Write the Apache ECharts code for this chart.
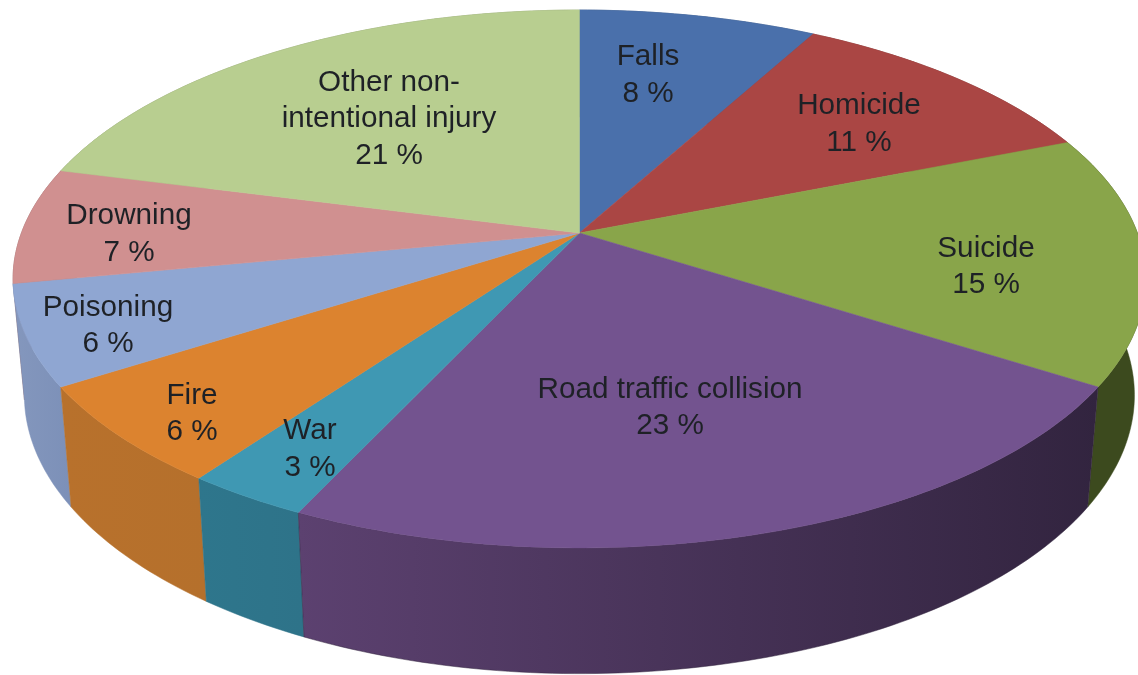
<!DOCTYPE html>
<html>
<head>
<meta charset="utf-8">
<script src="https://cdn.jsdelivr.net/npm/echarts@6/dist/echarts.min.js"></script>
<style>html,body{margin:0;padding:0;background:#fff;overflow:hidden}#c{width:1138px;height:675px;filter:blur(0.6px)}</style>
</head>
<body>
<div id="c"></div>
<script>
// Data
const categories = ['Falls', 'Homicide', 'Suicide', 'Road traffic collision', 'War', 'Fire', 'Poisoning', 'Drowning', 'Other non-\nintentional injury'];
const percentages = [8, 11, 15, 23, 3, 6, 6, 7, 21];

// Styles
const topColours = ['#4a70ab', '#aa4644', '#89a54a', '#73538f', '#3f98b3', '#dc832f', '#8fa6d2', '#d09090', '#b8ce90'];
const sideColoursStart = ['#324d76', '#75302f', '#3c4a1e', '#5c4170', '#2e768c', '#b8712c', '#8497bd', '#8f6363', '#7f8e63'];
const sideColoursEnd = ['#324d76', '#75302f', '#3c4a1e', '#32243f', '#2e7389', '#b5702c', '#7c90b8', '#8f6363', '#7f8e63'];
const labelCentres = [[648, 75.5], [859, 124.5], [986, 267], [670, 408], [310, 449.5], [192, 414], [108, 326], [129, 234.5], [389, 119]];

// Perspective view of the pie disc: a unit circle projected on to the page
const apexX = 579.4, apexY = 233, spreadX = 558, spreadY = 261.1, perspective = 0.171;
// The lower rim is the upper rim moved down and slightly narrowed
const rimScaleX = 0.98, rimScaleY = 1.035, rimShiftY = 106.5;

const total = percentages.reduce((a, b) => a + b, 0);
const project = (angle, radius) => {
  const u = radius * Math.sin(angle), v = radius * Math.cos(angle);
  const d = 1 + perspective * v;
  return [apexX + spreadX * u / d, apexY - spreadY * v / d];
};
const lower = (p) => [apexX + (p[0] - apexX) * rimScaleX, p[1] * rimScaleY + rimShiftY];

function sliceAngles(i) {
  let before = 0;
  for (let k = 0; k < i; k++) before += percentages[k];
  return [before / total * 2 * Math.PI, (before + percentages[i]) / total * 2 * Math.PI];
}
function rim(i) {
  const [a0, a1] = sliceAngles(i);
  const n = Math.max(8, Math.round((a1 - a0) * 60));
  const pts = [];
  for (let s = 0; s <= n; s++) pts.push(project(a0 + (a1 - a0) * s / n, 1));
  return pts;
}

function renderSide(params, api) {
  const i = params.dataIndex;
  const upper = rim(i);
  const pts = upper.concat(upper.map(lower).reverse());
  const fill = new echarts.graphic.LinearGradient(0, 0, 1, 0, [
    { offset: 0, color: sideColoursStart[i] },
    { offset: 1, color: sideColoursEnd[i] }
  ]);
  // Walls nearer the viewer are painted over the ones behind them
  const nearness = Math.round(Math.max.apply(null, upper.map((p) => p[1])));
  return { type: 'polygon', z2: nearness, shape: { points: pts }, style: { fill: fill, stroke: sideColoursEnd[i], lineWidth: 0.5 } };
}
function renderTop(params, api) {
  const i = params.dataIndex;
  const pts = [[apexX, apexY]].concat(rim(i));
  return { type: 'polygon', shape: { points: pts }, style: { fill: topColours[i], stroke: topColours[i], lineWidth: 0.6 } };
}
function renderLabel(params, api) {
  const i = params.dataIndex;
  return {
    type: 'text',
    style: {
      text: categories[i] + '\n' + api.value(0) + ' %',
      x: labelCentres[i][0], y: labelCentres[i][1],
      align: 'center', verticalAlign: 'middle',
      font: '29.7px "Liberation Sans", Arial, sans-serif',
      lineHeight: 36.5,
      fill: '#1e2126'
    }
  };
}

const rows = percentages.map((v) => [v]);
const chart = echarts.init(document.getElementById('c'), null, { renderer: 'canvas' });
chart.setOption({
  backgroundColor: '#ffffff',
  animation: false,
  series: [
    { type: 'custom', coordinateSystem: 'none', z: 1, data: rows, renderItem: renderSide, silent: true },
    { type: 'custom', coordinateSystem: 'none', z: 2, data: rows, renderItem: renderTop, silent: true },
    { type: 'custom', coordinateSystem: 'none', z: 3, data: rows, renderItem: renderLabel, silent: true }
  ]
});
</script>
</body>
</html>
